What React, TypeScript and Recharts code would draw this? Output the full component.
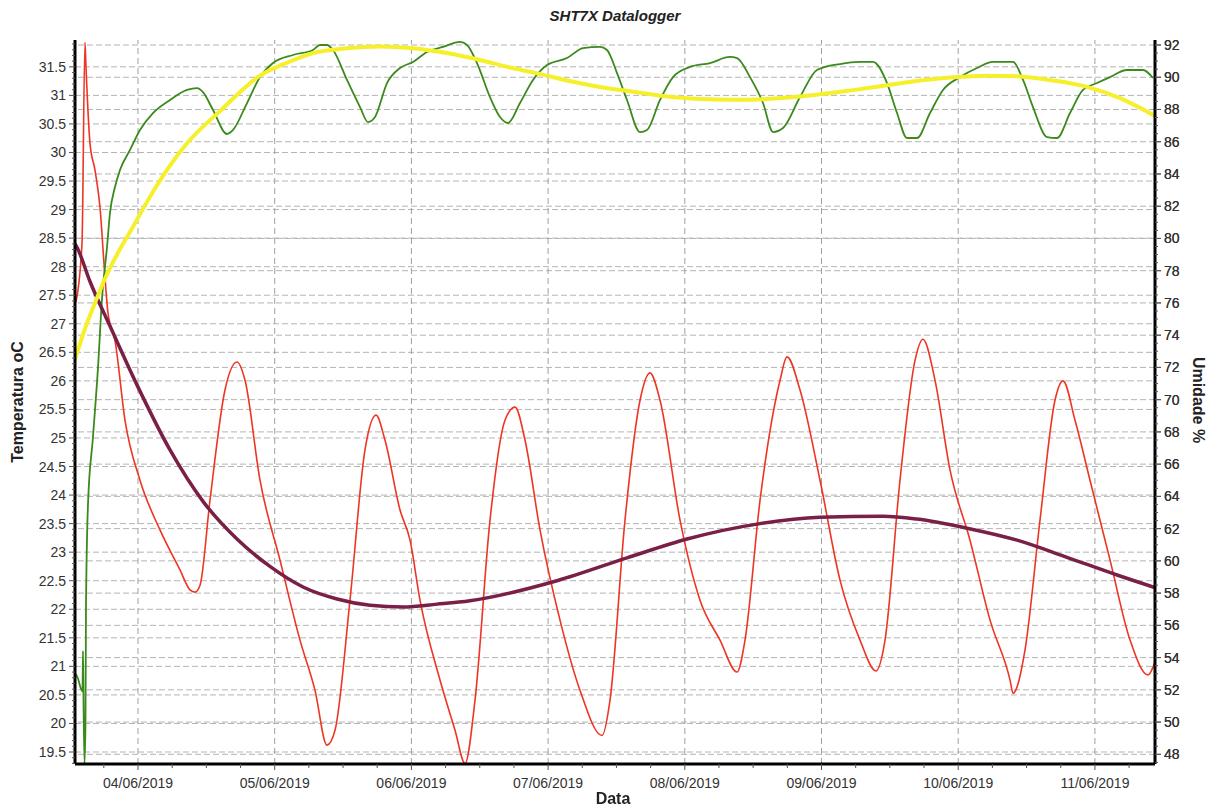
import { LineChart, Line, XAxis, YAxis, ReferenceLine } from "recharts";

// horas desde 04/06/2019 00:00
const dayTicks = [0, 24, 48, 72, 96, 120, 144, 168];
const dayLabels = ["04/06/2019", "05/06/2019", "06/06/2019", "07/06/2019", "08/06/2019", "09/06/2019", "10/06/2019", "11/06/2019"];
const tempTicks = [19.5, 20, 20.5, 21, 21.5, 22, 22.5, 23, 23.5, 24, 24.5, 25, 25.5, 26, 26.5, 27, 27.5, 28, 28.5, 29, 29.5, 30, 30.5, 31, 31.5];
const humTicks = [48, 50, 52, 54, 56, 58, 60, 62, 64, 66, 68, 70, 72, 74, 76, 78, 80, 82, 84, 86, 88, 90, 92];

const temperatura: [number, number][] = [
  [-10.89, 27.38], [-9.83, 28.41], [-9.31, 31.93], [-9.13, 31.49], [-8.43, 30.16], [-7.55, 29.69],
  [-6.67, 29.04], [-5.97, 28.06], [-5.27, 27.19], [-4.04, 26.71], [-2.28, 25.31], [0.35, 24.26],
  [3.86, 23.39], [7.37, 22.69], [9.13, 22.34], [10.01, 22.3], [10.89, 22.42], [12.64, 23.91],
  [15.27, 25.84], [17.38, 26.33], [18.79, 26.01], [21.42, 24.26], [24.93, 22.86], [28.44, 21.46],
  [31.08, 20.58], [33.18, 19.62], [34.59, 19.88], [37.22, 22.16], [39.85, 24.79], [41.79, 25.4],
  [43.37, 24.96], [46.0, 23.74], [47.76, 23.21], [49.51, 22.16], [53.02, 20.76], [55.66, 19.88],
  [57.41, 19.3], [59.17, 20.41], [61.8, 23.56], [64.43, 25.31], [66.19, 25.54], [67.95, 24.96],
  [70.58, 23.39], [74.09, 21.81], [77.6, 20.58], [81.46, 19.79], [82.87, 20.41], [85.5, 23.56],
  [88.14, 25.66], [89.89, 26.14], [91.65, 25.66], [95.16, 23.56], [98.67, 22.16], [102.18, 21.46],
  [105.17, 20.9], [106.57, 21.46], [109.21, 23.91], [112.72, 26.01], [113.94, 26.42], [116.23, 25.84],
  [119.74, 24.26], [123.25, 22.51], [126.76, 21.46], [129.57, 20.92], [131.15, 21.46], [133.78, 24.26],
  [136.42, 26.36], [137.82, 26.73], [139.93, 26.01], [142.56, 24.44], [146.07, 23.21], [149.59, 21.81],
  [153.1, 20.76], [153.62, 20.53], [155.73, 21.29], [158.36, 23.56], [160.99, 25.66], [162.4, 26.0],
  [164.51, 25.31], [167.14, 24.26], [170.66, 22.86], [174.17, 21.46], [177.33, 20.85], [178.55, 21.08],
];

const umidade: [number, number][] = [
  [-11.06, 53.0], [-10.71, 52.85], [-9.74, 51.9], [-9.66, 54.4], [-9.57, 51.5], [-9.39, 47.4],
  [-9.22, 50.0], [-9.13, 57.1], [-8.78, 63.5], [-7.9, 67.7], [-7.02, 72.0], [-6.32, 76.26],
  [-5.44, 79.47], [-4.92, 81.58], [-4.04, 83.19], [-3.16, 84.25], [-1.4, 85.49], [0.35, 86.73],
  [2.63, 87.78], [5.62, 88.59], [8.6, 89.21], [10.36, 89.33], [11.41, 89.08], [13.17, 87.97],
  [15.63, 86.48], [16.68, 86.73], [19.14, 88.4], [21.42, 90.01], [23.7, 90.88], [27.21, 91.38],
  [30.72, 91.69], [31.95, 92.0], [33.18, 92.0], [34.24, 91.69], [36.69, 89.83], [38.98, 88.15],
  [40.38, 87.22], [41.61, 87.53], [43.72, 89.64], [46.0, 90.57], [48.28, 90.95], [50.74, 91.57],
  [53.55, 91.88], [56.53, 92.19], [57.76, 92.0], [59.52, 90.88], [61.8, 88.77], [63.56, 87.53],
  [64.96, 87.16], [67.07, 88.4], [69.35, 89.83], [71.81, 90.76], [75.32, 91.19], [78.13, 91.81],
  [81.11, 91.88], [82.34, 91.69], [84.1, 90.26], [85.85, 88.59], [88.14, 86.6], [89.37, 86.73],
  [91.65, 88.59], [93.93, 90.01], [96.91, 90.64], [100.43, 90.88], [103.94, 91.26], [105.17, 91.19],
  [107.45, 90.01], [109.73, 88.4], [111.49, 86.6], [113.24, 86.85], [116.23, 88.77], [119.21, 90.45],
  [123.25, 90.82], [126.76, 90.95], [129.04, 90.95], [131.5, 89.64], [133.26, 87.78], [135.01, 86.23],
  [136.77, 86.23], [139.05, 87.78], [141.33, 89.21], [144.32, 90.01], [147.3, 90.57], [150.11, 90.95],
  [153.62, 90.95], [155.38, 89.83], [157.13, 88.15], [159.59, 86.29], [161.35, 86.23], [163.63, 87.78],
  [165.91, 89.21], [168.37, 89.64], [170.66, 90.01], [173.64, 90.45], [176.45, 90.45], [178.2, 89.95],
];

const tendenciaTemp: [number, number][] = [
  [-11.06, 28.4], [-10.71, 28.34], [-8.43, 27.74], [-4.92, 26.96], [-0.18, 25.93], [5.62, 24.79],
  [11.41, 23.89], [17.38, 23.23], [23.17, 22.75], [28.97, 22.39], [34.94, 22.18], [40.73, 22.07],
  [46.53, 22.04], [52.5, 22.09], [58.29, 22.15], [73.56, 22.5], [85.85, 22.9], [96.39, 23.23],
  [109.21, 23.5], [119.74, 23.61], [130.8, 23.63], [136.77, 23.58], [145.55, 23.42], [154.33, 23.21],
  [163.1, 22.91], [171.88, 22.6], [178.55, 22.38],
];

const tendenciaUmid: [number, number][] = [
  [-11.06, 72.5], [-9.31, 74.4], [-7.55, 76.0], [-5.8, 77.5], [-3.69, 79.0], [-1.4, 80.4],
  [2.63, 82.9], [8.6, 85.9], [14.4, 87.9], [21.42, 90.1], [26.16, 90.9], [30.72, 91.5],
  [36.69, 91.8], [42.49, 91.9], [48.28, 91.8], [54.25, 91.5], [60.04, 91.07], [65.31, 90.6],
  [69.35, 90.3], [75.32, 89.8], [81.11, 89.4], [86.91, 89.1], [92.88, 88.8], [98.67, 88.65],
  [104.46, 88.6], [110.43, 88.65], [116.23, 88.8], [125.53, 89.2], [131.5, 89.5], [137.29, 89.8],
  [143.09, 90.0], [149.06, 90.1], [154.85, 90.05], [160.64, 89.8], [166.61, 89.4], [172.41, 88.7],
  [178.55, 87.6],
];

const toRows = (arr: [number, number][]) => arr.map(([t, v]) => ({ t, v }));

const X_DOMAIN = [-11.06, 178.55];
const T_DOMAIN = [19.29, 31.97];
const H_DOMAIN = [47.4, 92.31];

// marcas menores
const round = (n: number) => Math.round(n * 1000) / 1000;
const xMinor: number[] = [];
for (let h = -6; h <= 174; h += 6) xMinor.push(h);
const tMinor: number[] = [];
for (let v = 19.3; v <= 31.95; v += 0.1) tMinor.push(round(v));
const hMinor: number[] = [];
for (let v = 47.5; v <= 92.3; v += 0.5) hMinor.push(round(v));

const font = "'Liberation Sans', Arial, Helvetica, sans-serif";
const gridStroke = "#b4b4b4";

const isIn = (list: number[], v: number) => list.some((t) => Math.abs(t - v) < 1e-6);

function LeftTick({ x, y, payload }: any) {
  const major = isIn(tempTicks, payload.value);
  return (
    <g>
      <line x1={x} x2={x - (major ? 6 : 3)} y1={y} y2={y} stroke="#555" />
      {major && (
        <text x={x - 9} y={y} dy={5} textAnchor="end" fontSize={14} fill="#333" fontFamily={font}>
          {String(payload.value)}
        </text>
      )}
    </g>
  );
}

function RightTick({ x, y, payload }: any) {
  const major = isIn(humTicks, payload.value);
  return (
    <g>
      <line x1={x} x2={x + (major ? 6 : 3)} y1={y} y2={y} stroke="#555" />
      {major && (
        <text x={x + 9} y={y} dy={5} textAnchor="start" fontSize={14} fill="#333" fontFamily={font}>
          {String(payload.value)}
        </text>
      )}
    </g>
  );
}

function BottomTick({ x, y, payload }: any) {
  const i = dayTicks.indexOf(payload.value);
  const major = i >= 0;
  return (
    <g>
      <line x1={x} x2={x} y1={y} y2={y + (major ? 6 : 4)} stroke="#555" />
      {major && (
        <text x={x} y={y + 24} textAnchor="middle" fontSize={14} fill="#333" fontFamily={font}>
          {dayLabels[i]}
        </text>
      )}
    </g>
  );
}

export default function App() {
  return (
    <div style={{ position: "fixed", left: 0, top: 0, width: 1218, height: 809, background: "#fff", fontFamily: font }}>
      <div style={{ position: "absolute", top: 7, left: 0, width: 1230, textAlign: "center", fontSize: 15, fontWeight: "bold", fontStyle: "italic", color: "#222" }}>
        SHT7X Datalogger
      </div>
      <LineChart width={1218} height={809} margin={{ top: 40, right: 0, bottom: 0, left: 0 }}>
        <XAxis
          xAxisId="top"
          orientation="top"
          type="number"
          dataKey="t"
          domain={X_DOMAIN}
          allowDataOverflow
          height={0}
          tick={false}
          tickLine={false}
          axisLine={{ stroke: "#000", strokeWidth: 2 }}
        />
        <XAxis
          type="number"
          dataKey="t"
          domain={X_DOMAIN}
          allowDataOverflow
          ticks={xMinor}
          interval={0}
          height={45}
          tickSize={0}
          tickMargin={0}
          tickLine={false}
          tick={(p: any) => <BottomTick {...p} />}
          axisLine={{ stroke: "#000", strokeWidth: 3 }}
        />
        <YAxis
          yAxisId="T"
          orientation="left"
          type="number"
          domain={T_DOMAIN}
          allowDataOverflow
          ticks={tMinor}
          interval={0}
          width={75}
          tickSize={0}
          tickMargin={0}
          tickLine={false}
          tick={(p: any) => <LeftTick {...p} />}
          axisLine={{ stroke: "#000", strokeWidth: 3 }}
        />
        <YAxis
          yAxisId="H"
          orientation="right"
          type="number"
          domain={H_DOMAIN}
          allowDataOverflow
          ticks={hMinor.concat(humTicks)}
          interval={0}
          width={63}
          tickSize={0}
          tickMargin={0}
          tickLine={false}
          tick={(p: any) => <RightTick {...p} />}
          axisLine={{ stroke: "#000", strokeWidth: 3 }}
        />

        {tempTicks.map((v) => (
          <ReferenceLine key={"gt" + v} yAxisId="T" y={v} stroke={gridStroke} strokeDasharray="6 3" />
        ))}
        {humTicks.map((v) => (
          <ReferenceLine key={"gh" + v} yAxisId="H" y={v} stroke={gridStroke} strokeDasharray="6 3" />
        ))}
        {dayTicks.map((v) => (
          <ReferenceLine key={"gx" + v} yAxisId="T" x={v} stroke="#a0a0a0" strokeDasharray="6 4" />
        ))}

        <Line yAxisId="T" data={toRows(temperatura)} dataKey="v" type="monotone" stroke="#ee3524" strokeWidth={1.6} dot={false} isAnimationActive={false} />
        <Line yAxisId="H" data={toRows(umidade)} dataKey="v" type="monotone" stroke="#3a8a1c" strokeWidth={1.8} dot={false} isAnimationActive={false} />
        <Line yAxisId="T" data={toRows(tendenciaTemp)} dataKey="v" type="monotone" stroke="#7a1f45" strokeWidth={3.5} dot={false} isAnimationActive={false} />
        <Line yAxisId="H" data={toRows(tendenciaUmid)} dataKey="v" type="monotone" stroke="#f6f02a" strokeWidth={4} dot={false} isAnimationActive={false} />
      </LineChart>
      <div style={{ position: "absolute", top: 790, left: 0, width: 1226, textAlign: "center", fontSize: 16, fontWeight: "bold", color: "#222" }}>
        Data
      </div>
      <div style={{ position: "absolute", left: 18, top: 402, transform: "translate(-50%, -50%) rotate(-90deg)", whiteSpace: "nowrap", fontSize: 16, fontWeight: "bold", color: "#222" }}>
        Temperatura oC
      </div>
      <div style={{ position: "absolute", left: 1198, top: 400, transform: "translate(-50%, -50%) rotate(90deg)", whiteSpace: "nowrap", fontSize: 16, fontWeight: "bold", color: "#222" }}>
        Umidade %
      </div>
    </div>
  );
}
